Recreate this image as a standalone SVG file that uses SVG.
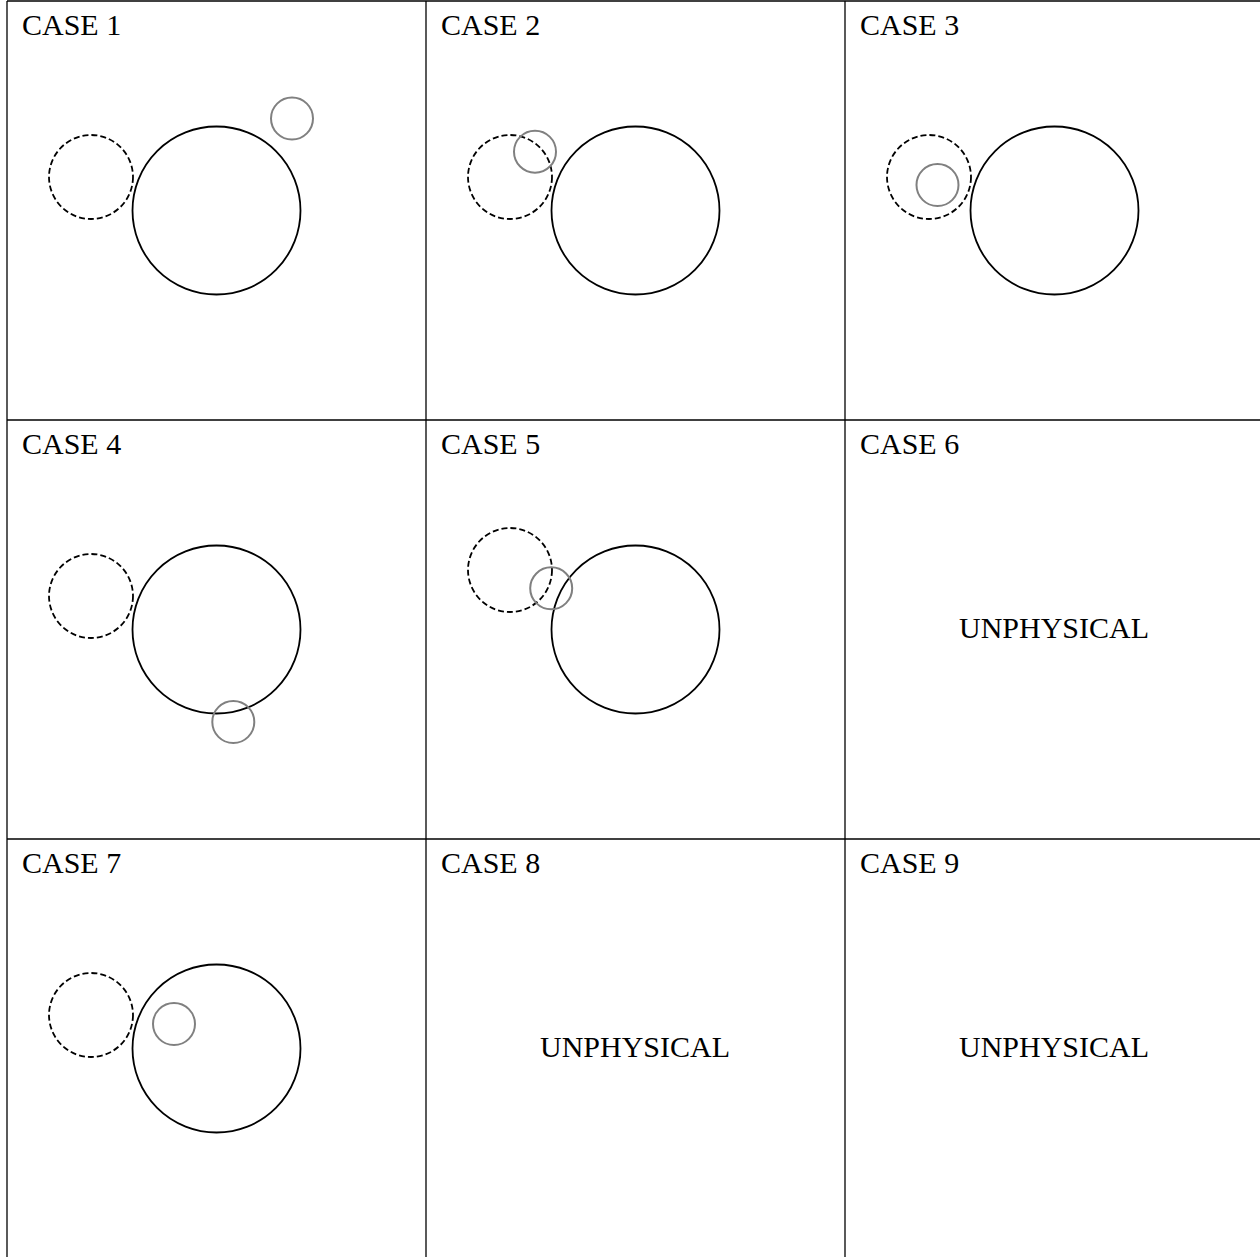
<svg xmlns="http://www.w3.org/2000/svg" width="1260" height="1257" viewBox="0 0 1260 1257">
<style>
.grid{stroke:#000;stroke-width:1.3;fill:none}
.big{stroke:#000;stroke-width:1.8;fill:none}
.dash{stroke:#000;stroke-width:1.8;fill:none;stroke-dasharray:6 3}
.small{stroke:#808080;stroke-width:2;fill:none}
text{font-size:30px;fill:#000}
.mid{text-anchor:middle}
</style>
<rect width="1260" height="1257" fill="#fff"/>
<g id="grid">
<line class="grid" x1="7" y1="1" x2="1260" y2="1"/>
<line class="grid" x1="7" y1="420" x2="1260" y2="420"/>
<line class="grid" x1="7" y1="839" x2="1260" y2="839"/>
<line class="grid" x1="7" y1="1" x2="7" y2="1257"/>
<line class="grid" x1="426" y1="1" x2="426" y2="1257"/>
<line class="grid" x1="845" y1="1" x2="845" y2="1257"/>
</g>
<g font-family="Liberation Serif, Tinos, Times New Roman, DejaVu Serif, serif">
<g id="case1">
<text x="22" y="35">CASE 1</text>
<circle class="dash" cx="91" cy="177" r="42"/>
<circle class="big" cx="216.5" cy="210.5" r="84"/>
<circle class="small" cx="292" cy="118.5" r="21"/>
</g>
<g id="case2">
<text x="441" y="35">CASE 2</text>
<circle class="dash" cx="510" cy="177" r="42"/>
<circle class="big" cx="635.5" cy="210.5" r="84"/>
<circle class="small" cx="535" cy="151.7" r="21"/>
</g>
<g id="case3">
<text x="860" y="35">CASE 3</text>
<circle class="dash" cx="929" cy="177" r="42"/>
<circle class="big" cx="1054.5" cy="210.5" r="84"/>
<circle class="small" cx="937.5" cy="185" r="21"/>
</g>
<g id="case4">
<text x="22" y="454">CASE 4</text>
<circle class="dash" cx="91" cy="596" r="42"/>
<circle class="big" cx="216.5" cy="629.5" r="84"/>
<circle class="small" cx="233.3" cy="722" r="21"/>
</g>
<g id="case5">
<text x="441" y="454">CASE 5</text>
<circle class="dash" cx="510" cy="570" r="42"/>
<circle class="big" cx="635.5" cy="629.5" r="84"/>
<circle class="small" cx="551.2" cy="588.3" r="21"/>
</g>
<g id="case6">
<text x="860" y="454">CASE 6</text>
<text class="mid" x="1054" y="637.5">UNPHYSICAL</text>
</g>
<g id="case7">
<text x="22" y="873">CASE 7</text>
<circle class="dash" cx="91" cy="1015" r="42"/>
<circle class="big" cx="216.5" cy="1048.5" r="84"/>
<circle class="small" cx="174" cy="1024" r="21"/>
</g>
<g id="case8">
<text x="441" y="873">CASE 8</text>
<text class="mid" x="635" y="1056.5">UNPHYSICAL</text>
</g>
<g id="case9">
<text x="860" y="873">CASE 9</text>
<text class="mid" x="1054" y="1056.5">UNPHYSICAL</text>
</g>
</g>
</svg>
